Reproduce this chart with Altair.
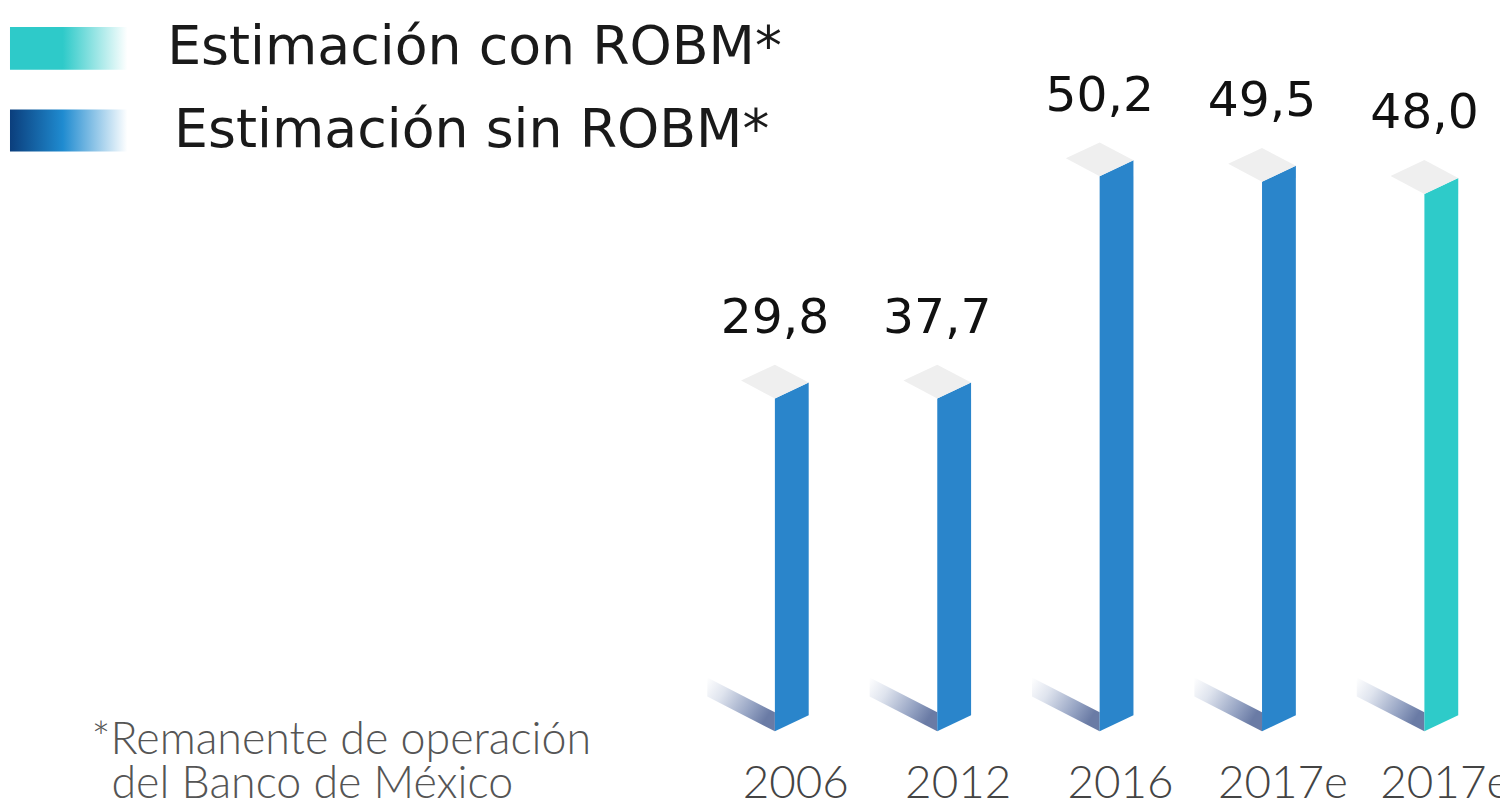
import altair as alt
import pandas as pd

# ---- data ----
years = ["2006", "2012", "2016", "2017e", "2017e"]
values = [29.8, 37.7, 50.2, 49.5, 48.0]
drawn_heights = [30.1, 30.1, 50.2, 49.7, 48.6]   # bar heights as drawn in the picture
series = ["sin", "sin", "sin", "sin", "con"]
legend_labels = ["Estimación con ROBM*", "Estimación sin ROBM*"]
footnote = ["*Remanente de operación", "del Banco de México"]

# ---- layout constants ----
W, H = 1500, 800
S = 163.25      # px per bar slot
K = 11.116      # px per value unit
X0, Y0 = 771, 725
xdom = [-X0 / S, (W - X0) / S]
ydom = [-(H - Y0) / K, Y0 / K]


def ux(px):
    return px / S


def uy(px):
    return px / K


front, top, shadow, labels = [], [], [], []
for i, (yr, v, h, s) in enumerate(zip(years, values, drawn_heights, series)):
    front += [
        dict(bar=i, series=s, x=i, y=h, y2=0.0),
        dict(bar=i, series=s, x=i + ux(34), y=h + uy(16), y2=uy(16)),
    ]
    top += [
        dict(bar=i, x=i - ux(34), y=h + uy(18), y2=h + uy(18)),
        dict(bar=i, x=i, y=h + uy(34), y2=h),
        dict(bar=i, x=i + ux(34), y=h + uy(16), y2=h + uy(16)),
    ]
    shadow += [
        dict(bar=i, x=i - ux(68), y=uy(54), y2=uy(35)),
        dict(bar=i, x=i, y=uy(19), y2=0.0),
    ]
    labels.append(dict(bar=i, x=i, y=h + uy(34) + uy(32),
                       label=f"{v:.1f}".replace(".", ","),
                       yx=i + ux(21), year=yr))

front_df = pd.DataFrame(front)
top_df = pd.DataFrame(top)
shadow_df = pd.DataFrame(shadow)
lab_df = pd.DataFrame(labels)

xs = alt.Scale(domain=xdom, nice=False, zero=False)
ys = alt.Scale(domain=ydom, nice=False, zero=False)
X = lambda f: alt.X(f, type="quantitative", scale=xs, axis=None)
Y = lambda f: alt.Y(f, type="quantitative", scale=ys, axis=None, stack=None)

shadow_grad = alt.Gradient(
    gradient="linear",
    stops=[alt.GradientStop(color="#ffffff", offset=0),
           alt.GradientStop(color="#dfe4ee", offset=0.3),
           alt.GradientStop(color="#94a2c2", offset=0.75),
           alt.GradientStop(color="#6a7ba5", offset=1)],
    x1=0, x2=1, y1=0, y2=0.5)

shadow_layer = alt.Chart(shadow_df).mark_area(color=shadow_grad).encode(
    x=X("x"), y=Y("y"), y2="y2", detail="bar:N")

front_layer = alt.Chart(front_df).mark_area().encode(
    x=X("x"), y=Y("y"), y2="y2", detail="bar:N",
    color=alt.Color("series:N",
                    scale=alt.Scale(domain=["sin", "con"], range=["#2a85cb", "#2ecbc9"]),
                    legend=None))

top_layer = alt.Chart(top_df).mark_area(color="#efefef").encode(
    x=X("x"), y=Y("y"), y2="y2", detail="bar:N")

value_text = alt.Chart(lab_df).mark_text(
    font="DejaVu Sans", fontSize=49, color="#111111",
    align="center", baseline="alphabetic").encode(
    x=X("x"), y=Y("y"), text="label:N")

year_text = alt.Chart(lab_df).mark_text(
    font="Lato", fontSize=46, fontWeight=300, color="#444444",
    align="center", baseline="alphabetic").encode(
    x=X("yx"), y=alt.value(792), text="year:N")

# ---- legend (drawn manually to allow gradient swatches) ----
one = pd.DataFrame({"a": [0]})
teal_grad = alt.Gradient(
    gradient="linear",
    stops=[alt.GradientStop(color="#2ecac9", offset=0),
           alt.GradientStop(color="#2ecac9", offset=0.45),
           alt.GradientStop(color="#ffffff", offset=1)],
    x1=0, x2=1, y1=0, y2=0)
blue_grad = alt.Gradient(
    gradient="linear",
    stops=[alt.GradientStop(color="#0b3e7c", offset=0),
           alt.GradientStop(color="#1f8bd0", offset=0.45),
           alt.GradientStop(color="#ffffff", offset=1)],
    x1=0, x2=1, y1=0, y2=0)

sw1 = alt.Chart(one).mark_rect(color=teal_grad).encode(
    x=alt.value(2), x2=alt.value(120), y=alt.value(17), y2=alt.value(60))
sw2 = alt.Chart(one).mark_rect(color=blue_grad).encode(
    x=alt.value(2), x2=alt.value(120), y=alt.value(100), y2=alt.value(142))

leg_df = pd.DataFrame({"label": legend_labels, "px": [160, 167], "py": [38, 122]})
leg_text = alt.Chart(leg_df).mark_text(
    font="DejaVu Sans", fontSize=54, color="#1a1a1a",
    align="left", baseline="middle").encode(
    x=alt.X("px:Q", scale=None), y=alt.Y("py:Q", scale=None), text="label:N")

foot_df = pd.DataFrame({"label": footnote, "px": [84, 104], "py": [748, 792]})
foot_text = alt.Chart(foot_df).mark_text(
    font="Lato", fontSize=45, fontWeight=300, color="#555555",
    align="left", baseline="alphabetic").encode(
    x=alt.X("px:Q", scale=None), y=alt.Y("py:Q", scale=None), text="label:N")

chart = alt.layer(
    shadow_layer, front_layer, top_layer, value_text, year_text,
    sw1, sw2, leg_text, foot_text
).resolve_scale(x="independent", y="independent").properties(
    width=W, height=H, autosize=alt.AutoSizeParams(type="none"), padding=0
).configure_view(stroke=None)

chart.save("out.html", embed_options={"renderer": "svg", "actions": False})
